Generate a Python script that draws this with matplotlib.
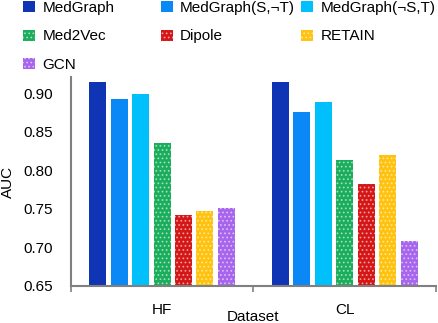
"""Recreate AUC grouped bar chart (HF / CL datasets)."""

import matplotlib
matplotlib.use("Agg")
import matplotlib.pyplot as plt
import numpy as np

datasets = ["HF", "CL"]
methods = ["MedGraph", "MedGraph(S,¬T)", "MedGraph(¬S,T)", "Med2Vec", "Dipole", "RETAIN", "GCN"]
auc_hf = [0.915, 0.893, 0.899, 0.835, 0.742, 0.747, 0.751]
auc_cl = [0.915, 0.876, 0.889, 0.814, 0.782, 0.820, 0.708]
colors = ["#1035b4", "#0a88f5", "#00c0fc", "#1aad5c", "#d41616", "#ffc20e", "#a764ec"]
hatched = [False, False, False, True, True, True, True]

plt.rcParams["font.family"] = ["Liberation Sans", "DejaVu Sans"]
plt.rcParams["hatch.linewidth"] = 0.8

fig = plt.figure(figsize=(4.38, 3.23), dpi=100)
ax = fig.add_axes([0.1614, 0.1146, 0.834, 0.647])

x = np.arange(len(datasets))
pitch, width = 0.1175, 0.093
values = np.array([auc_hf, auc_cl]).T
handles = []
for i, (name, color, hat) in enumerate(zip(methods, colors, hatched)):
    offset = (i - 3) * pitch
    bars = ax.bar(x + offset, values[i], width, color=color, label=name,
                  edgecolor=(1, 1, 1, 0.5) if hat else color,
                  hatch="...." if hat else None, linewidth=0)
    handles.append(bars)

ax.set_ylim(0.65, 0.921)
ax.set_xlim(-0.5, 1.5)
ax.set_yticks([0.65, 0.70, 0.75, 0.80, 0.85, 0.90])
ax.set_yticklabels([f"{v:.2f}" for v in [0.65, 0.70, 0.75, 0.80, 0.85, 0.90]])
ax.set_yticks([0.65], minor=True)
ax.set_xticks(x)
ax.set_xticklabels(datasets)
ax.set_xticks([-0.5, 0.5, 1.5], minor=True)
ax.tick_params(axis="x", which="major", length=0, pad=12, labelsize=11)
ax.tick_params(axis="x", which="minor", length=4, width=1.2, color="#808080")
ax.tick_params(axis="y", which="major", length=0, labelsize=11, pad=12.5)
ax.tick_params(axis="y", which="minor", length=3, width=1.5, color="#808080")
for side in ["top", "right"]:
    ax.spines[side].set_visible(False)
for side in ["left", "bottom"]:
    ax.spines[side].set_color("#808080")
    ax.spines[side].set_linewidth(1.5)
ax.set_ylabel("AUC", fontsize=11, labelpad=6)
ax.set_xlabel("Dataset", fontsize=11, labelpad=-5)

cols = [[0, 3, 6], [1, 4], [2, 5]]
col_x = [0.025, 0.340, 0.660]
for idx, cx in zip(cols, col_x):
    fig.legend([handles[i] for i in idx], [methods[i] for i in idx],
               loc="upper left", bbox_to_anchor=(cx, 1.035), frameon=False,
               fontsize=11, handlelength=0.75, handleheight=0.75,
               handletextpad=0.5, labelspacing=0.95, borderpad=0.3)

fig.savefig("out.png", dpi=100)
